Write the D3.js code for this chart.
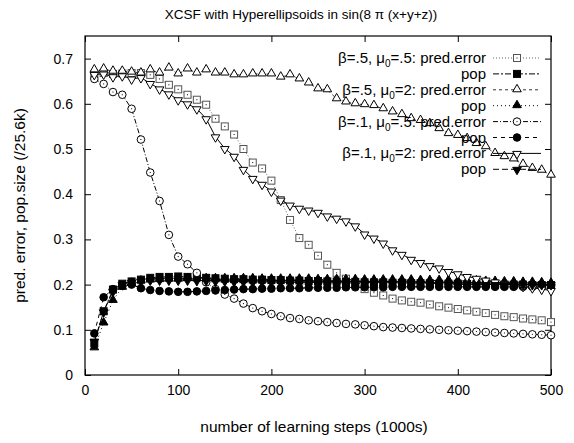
<!DOCTYPE html>
<html>
<head>
<meta charset="utf-8">
<script src="https://cdnjs.cloudflare.com/ajax/libs/d3/7.8.5/d3.min.js"></script>
<style>
  body { margin: 0; background: #fff; }
  text { font-family: "Liberation Sans", Arial, sans-serif; fill: #000; }
</style>
</head>
<body>
<div id="chart"></div>
<script>
// XCSF hyperellipsoid runs: prediction error and population size

// Data
// ====
var steps = d3.range(10, 510, 10);

var predErrB5M05 = [.666,.668,.666,.667,.668,.668,.664,.655,.642,.632,
  .62,.609,.598,.567,.55,.532,.50,.47,.457,.43,
  .387,.343,.303,.288,.264,.244,.226,.213,.2,.19,
  .182,.176,.169,.165,.162,.16,.156,.152,.149,.146,
  .143,.14,.137,.133,.13,.128,.125,.123,.121,.117];

var popB5M05 = [.07,.141,.189,.202,.207,.211,.215,.217,.217,.218,
  .217,.216,.215,.214,.213,.212,.212,.211,.211,.21,
  .21,.209,.209,.208,.208,.207,.207,.206,.206,.205,
  .205,.205,.204,.204,.203,.203,.203,.202,.202,.202,
  .201,.201,.201,.2,.2,.2,.2,.199,.199,.199];

var predErrB5M2 = [.675,.677,.672,.672,.67,.668,.675,.668,.679,.666,
  .677,.668,.675,.668,.668,.664,.664,.666,.666,.666,
  .659,.664,.655,.646,.633,.631,.611,.604,.6,.598,
  .596,.589,.582,.576,.567,.563,.556,.545,.534,.53,
  .523,.512,.505,.49,.483,.478,.466,.457,.453,.442];

var popB5M2 = [.06,.115,.165,.194,.203,.208,.21,.211,.212,.212,
  .213,.213,.213,.213,.213,.213,.213,.213,.212,.212,
  .212,.212,.212,.212,.211,.211,.211,.211,.211,.21,
  .21,.21,.21,.21,.21,.209,.209,.209,.209,.208,
  .208,.208,.207,.207,.206,.206,.205,.205,.204,.203];

var predErrB1M05 = [.655,.644,.626,.62,.589,.521,.448,.385,.31,.262,
  .245,.226,.205,.19,.178,.169,.158,.148,.141,.135,
  .13,.126,.124,.121,.119,.117,.115,.113,.112,.11,
  .108,.106,.105,.104,.103,.102,.101,.1,.099,.098,
  .097,.096,.095,.094,.093,.092,.091,.09,.089,.088];

var popB1M05 = [.092,.172,.19,.197,.2,.192,.188,.186,.185,.184,
  .184,.185,.186,.187,.188,.189,.19,.19,.191,.191,
  .192,.192,.192,.193,.193,.193,.193,.194,.194,.194,
  .194,.194,.195,.195,.195,.195,.195,.195,.195,.195,
  .195,.195,.195,.195,.195,.195,.195,.195,.195,.195];

var predErrB1M2 = [.665,.666,.66,.662,.655,.658,.645,.633,.622,.609,
  .6,.589,.567,.527,.501,.484,.455,.435,.422,.407,
  .387,.376,.369,.365,.36,.352,.347,.341,.33,.312,
  .303,.292,.277,.267,.256,.249,.242,.237,.229,.224,
  .218,.214,.21,.206,.202,.199,.196,.193,.19,.187];

var popB1M2 = [.075,.14,.185,.2,.205,.208,.21,.21,.21,.21,
  .21,.209,.209,.208,.208,.207,.207,.206,.206,.206,
  .205,.205,.205,.205,.204,.204,.204,.204,.203,.203,
  .203,.203,.202,.202,.202,.202,.201,.201,.201,.201,
  .2,.2,.2,.2,.2,.2,.2,.2,.2,.2];

var xTicks = [0, 100, 200, 300, 400, 500];
var yTicks = [0, 0.1, 0.2, 0.3, 0.4, 0.5, 0.6, 0.7];

// legend rows: [text before the subscript, text after it]
var legendLabels = [
  ["β=.5, μ", "=.5: pred.error"],
  ["", "pop"],
  ["β=.5, μ", "=2: pred.error"],
  ["", "pop"],
  ["β=.1, μ", "=.5: pred.error"],
  ["", "pop"],
  ["β=.1, μ", "=2: pred.error"],
  ["", "pop"]
];

// one style per series: marker, filled, dash
var series = [
  { values: predErrB5M05, shape: "square", fill: false, dash: "1,2", stroke: "#666" },
  { values: popB5M05, shape: "square", fill: true, dash: "6,2,2,2", stroke: "#000" },
  { values: predErrB5M2, shape: "up", fill: false, dash: "3,3", stroke: "#333" },
  { values: popB5M2, shape: "up", fill: true, dash: "1,3", stroke: "#000" },
  { values: predErrB1M05, shape: "circle", fill: false, dash: "5,2,1,2", stroke: "#000" },
  { values: popB1M05, shape: "circle", fill: true, dash: "4,4", stroke: "#000" },
  { values: predErrB1M2, shape: "down", fill: false, dash: null, stroke: "#000" },
  { values: popB1M2, shape: "down", fill: true, dash: "6,3", stroke: "#000" }
];

// Setup
// =====
var width = 574;
var height = 443;
var plotLeft = 85, plotRight = 551, plotTop = 36, plotBottom = 375;

var svg = d3
.select("#chart")
.append("svg")
.attr("width", width)
.attr("height", height);

var xScale = d3.scaleLinear().domain([0, 500]).range([plotLeft, plotRight]);
var yScale = d3.scaleLinear().domain([0, 0.75]).range([plotBottom, plotTop]);

// Axes (gnuplot style: ticks inside, mirrored)
// ==========================================
var tickLen = 6;

svg.append("g")
.attr("transform", "translate(0," + plotBottom + ")")
.call(d3.axisBottom(xScale).tickValues(xTicks).tickSize(-tickLen).tickPadding(10).tickFormat(d3.format("d")))
.call(function(g) { g.select(".domain").remove(); })
.selectAll("text")
.style("font-size", "14px");

svg.append("g")
.attr("transform", "translate(0," + plotTop + ")")
.call(d3.axisTop(xScale).tickValues(xTicks).tickSize(-tickLen).tickFormat(""))
.call(function(g) { g.select(".domain").remove(); });

svg.append("g")
.attr("transform", "translate(" + plotLeft + ",0)")
.call(d3.axisLeft(yScale).tickValues(yTicks).tickSize(-tickLen).tickPadding(12)
  .tickFormat(function(d) { return d === 0 ? "0" : d3.format(".1f")(d); }))
.call(function(g) { g.select(".domain").remove(); })
.selectAll("text")
.style("font-size", "14px");

svg.append("g")
.attr("transform", "translate(" + plotRight + ",0)")
.call(d3.axisRight(yScale).tickValues(yTicks).tickSize(-tickLen).tickFormat(""))
.call(function(g) { g.select(".domain").remove(); });

svg.selectAll(".tick line").attr("stroke", "#000");

svg.append("rect")
.attr("x", plotLeft)
.attr("y", plotTop)
.attr("width", plotRight - plotLeft)
.attr("height", plotBottom - plotTop)
.attr("fill", "none")
.attr("stroke", "#000")
.attr("stroke-width", 1.2);

// Labels
// ======
svg.append("text")
.attr("x", 301)
.attr("y", 19)
.attr("text-anchor", "middle")
.style("font-size", "13.5px")
.text("XCSF with Hyperellipsoids in sin(8 π (x+y+z))");

svg.append("text")
.attr("x", 314)
.attr("y", 432)
.attr("text-anchor", "middle")
.style("font-size", "15.5px")
.text("number of learning steps (1000s)");

svg.append("text")
.attr("transform", "translate(25," + ((plotTop + plotBottom) / 2) + ")rotate(-90)")
.attr("text-anchor", "middle")
.style("font-size", "15.5px")
.text("pred. error, pop.size (/25.6k)");

// Markers
// =======
function drawMarker(g, s, x, y) {
  var color = s.fill ? "#000" : "#fff";
  var edge = s.fill ? "#000" : (s.shape === "square" ? "#555" : "#000");
  var m;
  if (s.shape === "square") {
    m = g.append("rect").attr("x", x - 3.5).attr("y", y - 3.5).attr("width", 7).attr("height", 7);
  } else if (s.shape === "circle") {
    m = g.append("circle").attr("cx", x).attr("cy", y).attr("r", 3.8);
  } else {
    m = g.append("path")
    .attr("d", d3.symbol().type(d3.symbolTriangle).size(32)())
    .attr("transform", "translate(" + x + "," + (s.shape === "up" ? y - 0.5 : y + 0.5) + ")" + (s.shape === "down" ? "rotate(180)" : ""));
  }
  m.attr("fill", color).attr("stroke", edge).attr("stroke-width", 1);
  if (!s.fill && (s.shape === "square" || s.shape === "circle")) {
    g.append("rect").attr("x", x - 0.5).attr("y", y - 0.5).attr("width", 1).attr("height", 1).attr("fill", "#000");
  }
}

// Series
// ======
var line = d3.line()
.x(function(d, i) { return xScale(steps[i]); })
.y(function(d) { return yScale(d); });

series.forEach(function(s) {
  var g = svg.append("g");
  g.append("path")
  .datum(s.values)
  .attr("d", line)
  .attr("fill", "none")
  .attr("stroke", s.stroke)
  .attr("stroke-width", 1)
  .attr("stroke-dasharray", s.dash);
  s.values.forEach(function(v, i) {
    drawMarker(g, s, xScale(steps[i]), yScale(v));
  });
});

// Legend
// ======
var legendTop = 58, legendStep = 15.9;
var legendText = 486, sampleX0 = 493, sampleX1 = 541;

series.forEach(function(s, i) {
  var y = legendTop + i * legendStep;
  var g = svg.append("g");
  var t = g.append("text")
  .attr("x", legendText)
  .attr("y", y + 5)
  .attr("text-anchor", "end")
  .style("font-size", "15px");
  if (legendLabels[i][0]) {
    t.append("tspan").text(legendLabels[i][0]);
    t.append("tspan").attr("dy", 4).style("font-size", "10px").text("0");
    t.append("tspan").attr("dy", -4).text(legendLabels[i][1]);
  } else {
    t.text(legendLabels[i][1]);
  }
  g.append("line")
  .attr("x1", sampleX0).attr("x2", sampleX1)
  .attr("y1", y).attr("y2", y)
  .attr("stroke", s.stroke)
  .attr("stroke-dasharray", s.dash);
  drawMarker(g, s, (sampleX0 + sampleX1) / 2, y);
});
</script>
</body>
</html>
